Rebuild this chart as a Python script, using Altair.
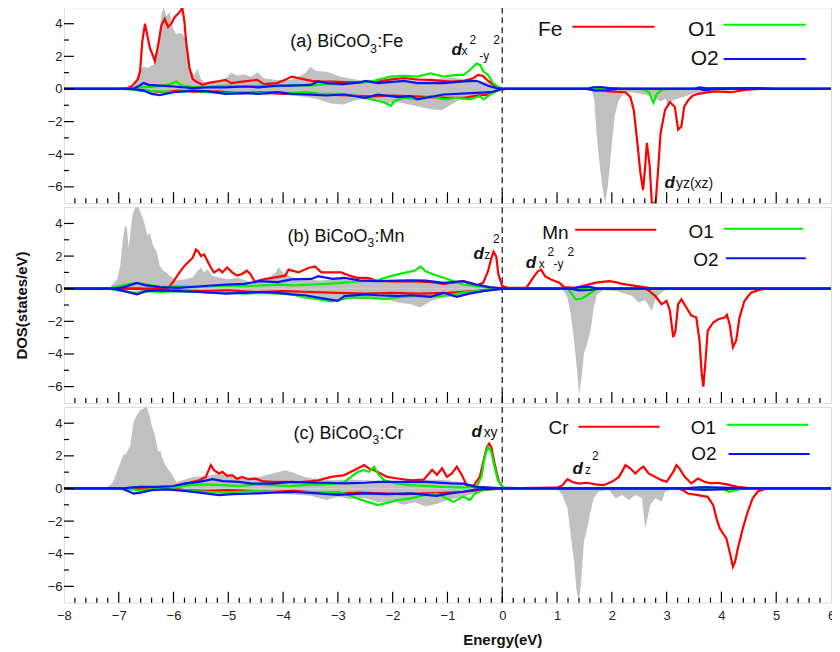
import altair as alt
import pandas as pd

# ---------------- data: (energy eV, DOS) ----------------
# Panel (a) BiCoO3:Fe
FE_TOT_UP = [(-8, 0), (-6.9, 0), (-6.72, 0.1), (-6.63, 1.1), (-6.55, 1.36), (-6.46, 1.3), (-6.40, 1.45),
             (-6.34, 1.5), (-6.28, 2.9), (-6.22, 4.6), (-6.18, 5.0), (-6.13, 4.45), (-6.07, 4.7), (-6.01, 3.7),
             (-5.95, 3.35), (-5.89, 3.45), (-5.83, 3.35), (-5.77, 3.05), (-5.71, 1.9), (-5.68, 1.1), (-5.62, 0.85),
             (-5.56, 1.25), (-5.5, 0.6), (-5.41, 0.35), (-5.23, 0.45), (-5.05, 0.62), (-4.95, 1.0), (-4.83, 0.82),
             (-4.71, 0.9), (-4.59, 0.75), (-4.47, 1.02), (-4.35, 0.65), (-4.11, 0.55), (-3.87, 0.55), (-3.72, 0.75),
             (-3.60, 0.96), (-3.50, 1.36), (-3.40, 1.1), (-3.2, 1.05), (-2.95, 0.75), (-2.7, 0.6), (-2.4, 0.45),
             (-2.1, 0.55), (-1.8, 0.5), (-1.5, 0.55), (-1.2, 0.6), (-0.9, 0.7), (-0.6, 0.55), (-0.4, 0.5),
             (-0.2, 0.35), (-0.05, 0.1), (0.05, 0), (6, 0)]
FE_TOT_DN = [(-8, 0), (-6.8, 0), (-6.5, -0.15), (-6.2, -0.2), (-5.8, -0.25), (-5.5, -0.15), (-5.2, -0.3),
             (-4.9, -0.35), (-4.6, -0.3), (-4.3, -0.4), (-4.0, -0.35), (-3.7, -0.45), (-3.4, -0.6), (-3.1, -0.9),
             (-2.9, -0.95), (-2.7, -0.7), (-2.5, -0.6), (-2.3, -0.75), (-2.1, -0.9), (-1.9, -0.8), (-1.7, -0.95),
             (-1.5, -1.1), (-1.3, -1.25), (-1.1, -1.3), (-0.95, -1.0), (-0.8, -0.7), (-0.6, -0.55), (-0.4, -0.45),
             (-0.25, -0.4), (-0.1, -0.15), (0.05, 0), (1.55, 0), (1.64, -0.15), (1.68, -0.7), (1.72, -2.7),
             (1.78, -4.7), (1.84, -6.3), (1.88, -7.0), (1.93, -5.9), (1.99, -3.7), (2.05, -1.7), (2.12, -0.75),
             (2.22, -0.25), (2.35, -0.2), (2.5, -0.3), (2.6, -0.35), (2.7, -0.45), (2.8, -0.6), (2.9, -0.75),
             (2.98, -0.6), (3.03, -1.15), (3.1, -0.7), (3.2, -0.6), (3.35, -0.45), (3.5, -0.25), (3.7, -0.15),
             (4.0, -0.1), (4.5, -0.05), (4.8, 0), (6, 0)]
FE_UP = [(-8, 0), (-7.0, 0), (-6.85, 0.05), (-6.75, 0.2), (-6.65, 0.6), (-6.61, 1.1), (-6.57, 2.9), (-6.52, 4.0),
         (-6.48, 3.3), (-6.43, 2.5), (-6.37, 2.0), (-6.34, 1.7), (-6.28, 2.7), (-6.22, 3.9), (-6.16, 4.3),
         (-6.10, 3.8), (-6.04, 4.0), (-5.98, 4.4), (-5.92, 4.6), (-5.87, 4.8), (-5.84, 5.0), (-5.80, 4.1),
         (-5.77, 2.9), (-5.71, 1.3), (-5.65, 0.6), (-5.59, 0.46), (-5.47, 0.26), (-5.38, 0.36), (-5.2, 0.46),
         (-5.05, 0.56), (-4.95, 0.36), (-4.71, 0.46), (-4.47, 0.56), (-4.35, 0.3), (-4.11, 0.36), (-3.96, 0.56),
         (-3.84, 0.76), (-3.7, 0.65), (-3.48, 0.5), (-3.3, 0.45), (-3.1, 0.45), (-2.88, 0.42), (-2.6, 0.4),
         (-2.4, 0.45), (-2.2, 0.5), (-2.0, 0.6), (-1.79, 0.66), (-1.55, 0.58), (-1.31, 0.56), (-1.1, 0.5),
         (-0.95, 0.45), (-0.7, 0.5), (-0.53, 0.66), (-0.44, 0.86), (-0.35, 0.8), (-0.28, 0.56), (-0.16, 0.26),
         (-0.05, 0.06), (0.05, 0), (1.5, 0), (1.7, 0.05), (1.9, 0.05), (2.1, 0), (6, 0)]
FE_DN = [(-8, 0), (-6.8, 0), (-6.5, -0.1), (-6.2, -0.2), (-5.9, -0.1), (-5.5, -0.2), (-5.2, -0.15), (-4.8, -0.25),
         (-4.4, -0.2), (-4.0, -0.3), (-3.6, -0.25), (-3.2, -0.35), (-2.8, -0.4), (-2.4, -0.45), (-2.0, -0.4),
         (-1.6, -0.45), (-1.3, -0.5), (-1.0, -0.55), (-0.7, -0.55), (-0.45, -0.4), (-0.25, -0.35), (-0.1, -0.1),
         (0.05, 0), (1.5, 0), (1.75, -0.05), (1.95, -0.15), (2.25, -0.2), (2.34, -0.5), (2.40, -1.3), (2.46, -3.1),
         (2.52, -5.1), (2.57, -6.2), (2.61, -4.7), (2.64, -3.3), (2.69, -4.7), (2.73, -7.0), (2.80, -7.0),
         (2.85, -4.7), (2.89, -2.7), (2.97, -1.3), (3.06, -0.8), (3.15, -1.1), (3.21, -2.5), (3.27, -2.3),
         (3.32, -1.1), (3.39, -0.7), (3.48, -0.4), (3.57, -0.3), (3.87, -0.15), (4.17, -0.2), (4.47, -0.05),
         (4.7, 0), (6, 0)]
O1A_UP = [(-8, 0), (-6.9, 0), (-6.6, 0.1), (-6.3, 0.15), (-6.05, 0.3), (-5.95, 0.46), (-5.85, 0.2), (-5.6, 0.1),
          (-5.3, 0.15), (-5.0, 0.2), (-4.7, 0.15), (-4.4, 0.2), (-4.1, 0.15), (-3.8, 0.25), (-3.5, 0.2),
          (-3.2, 0.3), (-2.9, 0.3), (-2.6, 0.4), (-2.4, 0.45), (-2.27, 0.56), (-2.04, 0.76), (-1.79, 0.8),
          (-1.55, 0.76), (-1.31, 0.96), (-1.07, 0.76), (-0.83, 0.86), (-0.71, 0.86), (-0.59, 1.16), (-0.47, 1.56),
          (-0.40, 1.46), (-0.34, 1.06), (-0.26, 0.86), (-0.17, 0.36), (-0.05, 0.06), (0.05, 0), (6, 0)]
O1A_DN = [(-8, 0), (-6.9, 0), (-6.6, -0.1), (-6.3, -0.15), (-6.0, -0.2), (-5.7, -0.1), (-5.4, -0.2), (-5.1, -0.25),
          (-4.8, -0.2), (-4.5, -0.25), (-4.2, -0.2), (-3.9, -0.25), (-3.6, -0.2), (-3.3, -0.3), (-3.0, -0.3),
          (-2.7, -0.4), (-2.5, -0.55), (-2.27, -0.74), (-2.15, -0.84), (-2.03, -1.04), (-1.97, -0.74),
          (-1.79, -0.54), (-1.55, -0.64), (-1.31, -0.44), (-1.07, -0.64), (-0.83, -0.54), (-0.59, -0.64),
          (-0.41, -0.44), (-0.34, -0.64), (-0.22, -0.34), (-0.05, -0.04), (0.05, 0), (2.55, 0), (2.68, -0.2),
          (2.76, -0.84), (2.82, -0.3), (2.92, -0.05), (3.0, 0), (6, 0)]
O2A_UP = [(-8, 0), (-6.75, 0), (-6.62, 0.2), (-6.55, 0.36), (-6.45, 0.25), (-6.25, 0.2), (-6.0, 0.15),
          (-5.65, 0.05), (-5.4, 0.1), (-5.05, 0.1), (-4.7, 0.15), (-4.45, 0.1), (-4.1, 0.2), (-3.85, 0.2),
          (-3.5, 0.25), (-3.36, 0.46), (-3.2, 0.35), (-2.9, 0.3), (-2.6, 0.4), (-2.5, 0.5), (-2.27, 0.36),
          (-1.79, 0.5), (-1.55, 0.36), (-1.07, 0.36), (-0.71, 0.46), (-0.47, 0.5), (-0.26, 0.2), (-0.08, 0.03),
          (0.05, 0), (1.55, 0), (1.65, 0.1), (1.8, 0.12), (1.95, 0.05), (2.2, 0), (3.5, 0), (3.6, 0.1),
          (3.7, 0.05), (4.0, 0.03), (4.6, 0.06), (5.0, 0), (6, 0)]
O2A_DN = [(-8, 0), (-6.75, 0), (-6.55, -0.1), (-6.4, -0.3), (-6.25, -0.38), (-6.0, -0.2), (-5.65, -0.1),
          (-5.35, -0.15), (-5.05, -0.3), (-4.7, -0.25), (-4.45, -0.3), (-4.1, -0.2), (-3.85, -0.3), (-3.5, -0.35),
          (-3.2, -0.4), (-2.88, -0.34), (-2.5, -0.54), (-2.27, -0.34), (-1.9, -0.5), (-1.67, -0.44),
          (-1.55, -0.64), (-1.07, -0.34), (-0.47, -0.24), (-0.2, -0.2), (-0.05, -0.05), (0.05, 0), (1.55, 0),
          (1.7, -0.1), (1.9, -0.08), (2.1, 0), (3.6, 0), (3.7, -0.08), (3.85, 0), (6, 0)]

# Panel (b) BiCoO3:Mn
MN_TOT_UP = [(-8, 0), (-7.25, 0), (-7.16, 0.1), (-7.03, 0.55), (-6.97, 1.47), (-6.93, 2.9), (-6.88, 3.9),
             (-6.85, 3.7), (-6.82, 2.5), (-6.79, 3.3), (-6.75, 4.5), (-6.70, 5.0), (-6.64, 5.0), (-6.58, 4.5),
             (-6.52, 3.9), (-6.48, 3.3), (-6.43, 3.4), (-6.37, 2.6), (-6.31, 2.3), (-6.25, 1.4), (-6.19, 1.1),
             (-6.13, 1.0), (-6.07, 0.8), (-5.95, 0.5), (-5.77, 0.6), (-5.65, 0.7), (-5.56, 1.1), (-5.50, 1.3),
             (-5.44, 1.0), (-5.38, 1.2), (-5.29, 0.8), (-5.05, 0.6), (-4.81, 0.65), (-4.57, 0.37), (-4.32, 0.5),
             (-4.14, 1.0), (-4.08, 1.3), (-4.0, 1.0), (-3.84, 0.7), (-3.6, 0.6), (-3.36, 0.5), (-3.1, 0.55),
             (-2.8, 0.7), (-2.5, 0.6), (-2.2, 0.55), (-1.9, 0.45), (-1.6, 0.5), (-1.3, 0.45), (-1.0, 0.4),
             (-0.7, 0.3), (-0.4, 0.2), (-0.1, 0.1), (0.05, 0), (6, 0)]
MN_TOT_DN = [(-8, 0), (-6.9, 0), (-6.6, -0.15), (-6.2, -0.1), (-5.8, -0.2), (-5.4, -0.15), (-5.0, -0.25),
             (-4.6, -0.2), (-4.2, -0.3), (-3.8, -0.35), (-3.5, -0.55), (-3.2, -0.6), (-3.0, -0.75), (-2.8, -0.55),
             (-2.5, -0.65), (-2.2, -0.6), (-1.9, -0.85), (-1.67, -0.95), (-1.5, -1.15), (-1.3, -0.75),
             (-1.1, -0.55), (-0.8, -0.45), (-0.5, -0.3), (-0.2, -0.15), (0.05, 0), (1.1, 0), (1.19, -0.55),
             (1.25, -1.56), (1.31, -3.17), (1.37, -5.19), (1.40, -6.5), (1.45, -5.39), (1.49, -3.98), (1.55, -3.37),
             (1.61, -2.57), (1.67, -1.15), (1.73, -0.34), (1.85, -0.1), (2.1, -0.15), (2.37, -0.44), (2.49, -0.85),
             (2.61, -0.7), (2.73, -1.35), (2.79, -0.7), (2.85, -0.4), (2.97, -0.1), (3.1, 0), (6, 0)]
MN_UP = [(-8, 0), (-6.2, 0), (-6.1, 0.05), (-6.01, 0.4), (-5.89, 1.0), (-5.80, 1.4), (-5.71, 1.7), (-5.65, 1.9),
         (-5.59, 2.4), (-5.55, 2.3), (-5.50, 2.0), (-5.44, 2.1), (-5.38, 1.7), (-5.32, 1.3), (-5.26, 1.0),
         (-5.17, 1.2), (-5.11, 1.0), (-5.02, 1.3), (-4.93, 1.0), (-4.84, 0.8), (-4.75, 0.9), (-4.66, 1.1),
         (-4.60, 0.9), (-4.51, 0.4), (-4.45, 0.5), (-4.32, 0.6), (-4.14, 0.7), (-3.96, 0.8), (-3.9, 1.17),
         (-3.72, 1.0), (-3.54, 1.27), (-3.42, 1.37), (-3.3, 1.0), (-3.12, 1.0), (-2.94, 1.0), (-2.76, 0.77),
         (-2.64, 0.67), (-2.46, 0.67), (-2.3, 0.5), (-2.0, 0.45), (-1.67, 0.46), (-1.3, 0.4), (-1.07, 0.3),
         (-0.71, 0.46), (-0.59, 0.3), (-0.47, 0.2), (-0.35, 0.36), (-0.26, 1.07), (-0.20, 1.87), (-0.16, 2.27),
         (-0.11, 1.97), (-0.07, 0.87), (0.0, 0.16), (0.1, 0.05), (0.44, 0.05), (0.56, 0.67), (0.65, 1.07),
         (0.71, 1.17), (0.78, 0.77), (0.89, 0.57), (0.96, 0.47), (1.04, 0.37), (1.13, 0.1), (1.34, 0.05),
         (1.71, 0.37), (1.95, 0.47), (2.07, 0.4), (2.19, 0.3), (2.67, 0.05), (2.9, 0), (6, 0)]
MN_DN = [(-8, 0), (-6.6, 0), (-6.5, -0.1), (-6.0, -0.1), (-5.5, -0.15), (-5.0, -0.1), (-4.5, -0.2), (-4.0, -0.15),
         (-3.5, -0.2), (-3.0, -0.25), (-2.5, -0.3), (-2.0, -0.25), (-1.5, -0.3), (-1.0, -0.25), (-0.5, -0.15),
         (-0.2, -0.05), (0.05, 0), (2.6, 0), (2.67, -0.1), (2.79, -0.44), (2.91, -0.95), (3.0, -0.75),
         (3.06, -1.35), (3.12, -2.97), (3.16, -2.6), (3.21, -0.95), (3.27, -0.65), (3.36, -1.15), (3.45, -1.65),
         (3.54, -1.75), (3.60, -3.17), (3.64, -5.19), (3.67, -6.0), (3.71, -4.4), (3.75, -2.57), (3.85, -2.07),
         (3.94, -1.87), (4.06, -1.77), (4.10, -1.6), (4.15, -2.17), (4.21, -3.58), (4.27, -3.17), (4.33, -1.77),
         (4.42, -0.75), (4.54, -0.24), (4.72, -0.04), (4.85, 0), (6, 0)]
O1B_UP = [(-8, 0), (-7.2, 0), (-7.0, 0.15), (-6.8, 0.3), (-6.67, 0.35), (-6.55, 0.3), (-6.4, 0.2), (-6.2, 0.1),
          (-5.9, 0.15), (-5.6, 0.1), (-5.3, 0.15), (-5.0, 0.2), (-4.7, 0.15), (-4.4, 0.2), (-4.1, 0.25),
          (-3.8, 0.2), (-3.5, 0.25), (-3.2, 0.3), (-3.0, 0.34), (-2.64, 0.45), (-2.28, 0.52), (-2.04, 0.77),
          (-1.79, 0.97), (-1.6, 1.1), (-1.49, 1.37), (-1.4, 1.07), (-1.25, 0.87), (-1.07, 0.67), (-0.89, 0.46),
          (-0.71, 0.26), (-0.47, 0.15), (-0.2, 0.05), (0.05, 0), (6, 0)]
O1B_DN = [(-8, 0), (-7.2, 0), (-7.0, -0.1), (-6.8, -0.2), (-6.67, -0.25), (-6.5, -0.15), (-6.2, -0.2),
          (-5.9, -0.15), (-5.6, -0.2), (-5.3, -0.25), (-5.0, -0.2), (-4.7, -0.3), (-4.4, -0.25), (-4.1, -0.3),
          (-3.84, -0.35), (-3.6, -0.54), (-3.36, -0.64), (-3.12, -0.78), (-3.0, -0.7), (-2.76, -0.54),
          (-2.4, -0.55), (-2.16, -0.64), (-1.85, -0.5), (-1.6, -0.45), (-1.37, -0.45), (-1.13, -0.45),
          (-0.89, -0.35), (-0.71, -0.24), (-0.47, -0.15), (-0.2, -0.05), (0.05, 0), (1.2, 0), (1.34, -0.65),
          (1.46, -0.6), (1.58, -0.34), (1.7, -0.05), (1.8, 0), (6, 0)]
O2B_UP = [(-8, 0), (-7.1, 0), (-6.9, 0.1), (-6.67, 0.36), (-6.5, 0.2), (-6.25, 0.1), (-5.9, 0.05), (-5.5, 0.15),
          (-5.05, 0.25), (-4.7, 0.3), (-4.44, 0.46), (-4.1, 0.4), (-3.84, 0.57), (-3.48, 0.6), (-3.36, 0.77),
          (-3.1, 0.6), (-2.88, 0.67), (-2.6, 0.5), (-2.28, 0.46), (-1.9, 0.5), (-1.67, 0.52), (-1.4, 0.5),
          (-1.07, 0.36), (-0.71, 0.46), (-0.47, 0.25), (-0.23, 0.1), (0.05, 0), (1.25, 0), (1.4, 0.1),
          (1.6, 0.12), (1.75, 0), (6, 0)]
O2B_DN = [(-8, 0), (-7.1, 0), (-6.9, -0.15), (-6.67, -0.35), (-6.5, -0.15), (-6.25, -0.1), (-5.9, -0.15),
          (-5.5, -0.2), (-5.05, -0.3), (-4.7, -0.25), (-4.44, -0.2), (-4.1, -0.25), (-3.84, -0.35), (-3.6, -0.4),
          (-3.36, -0.55), (-3.0, -0.75), (-2.88, -0.45), (-2.5, -0.35), (-2.28, -0.4), (-1.9, -0.45),
          (-1.67, -0.4), (-1.3, -0.5), (-1.07, -0.24), (-0.83, -0.5), (-0.6, -0.3), (-0.35, -0.15),
          (-0.1, -0.05), (0.05, 0), (1.25, 0), (1.4, -0.1), (1.6, -0.08), (1.75, 0), (6, 0)]

# Panel (c) BiCoO3:Cr
CR_TOT_UP = [(-8, 0), (-7.3, 0), (-7.2, 0.1), (-7.10, 0.4), (-7.01, 1.22), (-6.92, 2.04), (-6.86, 2.14),
             (-6.79, 2.65), (-6.73, 4.08), (-6.67, 4.5), (-6.61, 4.8), (-6.55, 4.9), (-6.49, 5.0), (-6.44, 4.5),
             (-6.40, 3.9), (-6.34, 3.27), (-6.28, 2.25), (-6.24, 2.3), (-6.19, 1.73), (-6.13, 1.33), (-6.04, 0.92),
             (-5.95, 0.4), (-5.83, 0.51), (-5.65, 0.71), (-5.41, 0.75), (-5.17, 0.92), (-4.93, 0.7), (-4.69, 0.6),
             (-4.44, 0.71), (-4.20, 0.92), (-3.96, 1.12), (-3.84, 1.0), (-3.6, 0.7), (-3.36, 0.55), (-3.1, 0.5),
             (-2.8, 0.55), (-2.5, 0.5), (-2.2, 0.45), (-1.9, 0.4), (-1.6, 0.5), (-1.3, 0.55), (-1.0, 0.5),
             (-0.7, 0.35), (-0.4, 0.15), (-0.1, 0.05), (0.05, 0), (6, 0)]
CR_TOT_DN = [(-8, 0), (-7.0, 0), (-6.7, -0.1), (-6.3, -0.05), (-5.9, -0.15), (-5.5, -0.2), (-5.1, -0.25),
             (-4.7, -0.2), (-4.3, -0.3), (-3.9, -0.35), (-3.5, -0.45), (-3.2, -0.7), (-3.0, -0.5), (-2.8, -0.65),
             (-2.5, -0.6), (-2.27, -0.85), (-2.0, -0.8), (-1.8, -1.0), (-1.6, -0.85), (-1.4, -1.1), (-1.2, -0.95),
             (-1.0, -0.7), (-0.7, -0.5), (-0.45, -0.25), (-0.2, -0.1), (0.05, 0), (1.0, 0), (1.10, -0.41),
             (1.19, -1.22), (1.25, -2.86), (1.31, -4.49), (1.35, -6.12), (1.40, -6.94), (1.44, -5.71),
             (1.49, -3.27), (1.55, -2.45), (1.61, -1.43), (1.67, -0.61), (1.76, -0.2), (1.95, -0.1), (2.07, -0.61),
             (2.19, -0.4), (2.31, -0.71), (2.43, -0.4), (2.55, -0.6), (2.61, -2.45), (2.64, -2.0), (2.70, -1.02),
             (2.79, -0.6), (2.91, -0.82), (2.97, -0.2), (3.1, -0.05), (3.3, 0), (6, 0)]
CR_UP = [(-8, 0), (-6.0, 0), (-5.95, 0.05), (-5.77, 0.3), (-5.53, 0.5), (-5.41, 0.71), (-5.32, 1.43), (-5.26, 1.12),
         (-5.17, 0.92), (-5.11, 1.02), (-5.02, 0.78), (-4.93, 0.82), (-4.84, 0.6), (-4.75, 0.71), (-4.63, 0.57),
         (-4.5, 0.6), (-4.38, 0.45), (-4.2, 0.41), (-3.96, 0.41), (-3.72, 0.38), (-3.48, 0.45), (-3.36, 0.5),
         (-3.12, 0.71), (-2.88, 0.82), (-2.76, 1.02), (-2.64, 1.22), (-2.52, 1.43), (-2.43, 1.22), (-2.34, 1.12),
         (-2.22, 0.92), (-2.10, 0.71), (-1.91, 0.61), (-1.67, 0.5), (-1.43, 0.55), (-1.28, 1.14), (-1.19, 0.84),
         (-1.10, 1.24), (-1.01, 0.71), (-0.92, 0.92), (-0.83, 1.33), (-0.74, 0.84), (-0.65, 0.2), (-0.53, 0.15),
         (-0.41, 0.71), (-0.34, 1.73), (-0.28, 2.55), (-0.24, 2.76), (-0.20, 2.55), (-0.14, 1.53), (-0.06, 0.41),
         (0.02, 0.05), (0.3, 0.02), (1.0, 0.05), (1.10, 0.2), (1.19, 0.57), (1.28, 0.4), (1.4, 0.3), (1.55, 0.35),
         (1.7, 0.25), (1.85, 0.2), (2.0, 0.41), (2.13, 0.71), (2.25, 1.43), (2.34, 1.22), (2.43, 0.92),
         (2.52, 1.22), (2.58, 1.33), (2.67, 0.92), (2.79, 0.71), (2.91, 0.51), (3.0, 0.41), (3.12, 1.02),
         (3.18, 1.43), (3.24, 1.2), (3.33, 0.71), (3.45, 0.31), (3.57, 0.61), (3.69, 0.41), (3.81, 0.31),
         (3.93, 0.35), (4.1, 0.25), (4.3, 0.1), (4.5, 0.03), (4.7, 0), (6, 0)]
CR_DN = [(-8, 0), (-6.0, 0), (-5.8, -0.1), (-5.4, -0.15), (-5.0, -0.1), (-4.6, -0.15), (-4.2, -0.2), (-3.8, -0.15),
         (-3.4, -0.25), (-3.0, -0.3), (-2.6, -0.25), (-2.2, -0.3), (-1.8, -0.35), (-1.4, -0.3), (-1.0, -0.25),
         (-0.7, -0.2), (-0.4, -0.1), (-0.1, -0.02), (0.05, 0), (3.2, 0), (3.3, -0.1), (3.39, -0.31),
         (3.57, -0.41), (3.75, -0.51), (3.85, -1.02), (3.91, -1.84), (3.97, -2.45), (4.03, -2.76), (4.09, -3.06),
         (4.15, -3.88), (4.21, -4.8), (4.25, -4.49), (4.30, -3.67), (4.39, -2.45), (4.48, -1.43), (4.57, -0.61),
         (4.66, -0.2), (4.78, -0.04), (4.9, 0), (6, 0)]
O1C_UP = [(-8, 0), (-6.9, 0), (-6.75, 0.05), (-6.6, 0.1), (-6.4, 0.05), (-6.0, 0.05), (-5.7, 0.2), (-5.4, 0.25),
          (-5.1, 0.2), (-4.8, 0.15), (-4.5, 0.25), (-4.2, 0.2), (-3.9, 0.15), (-3.6, 0.2), (-3.3, 0.25),
          (-3.0, 0.3), (-2.88, 0.4), (-2.76, 0.71), (-2.64, 1.02), (-2.52, 1.12), (-2.43, 1.02), (-2.34, 1.33),
          (-2.27, 0.92), (-2.16, 0.5), (-1.91, 0.3), (-1.67, 0.2), (-1.1, 0.1), (-0.71, 0.06), (-0.47, 0.1),
          (-0.38, 0.71), (-0.32, 1.94), (-0.26, 2.55), (-0.20, 2.24), (-0.14, 1.33), (-0.08, 0.5), (0.02, 0.05),
          (0.2, 0), (6, 0)]
O1C_DN = [(-8, 0), (-6.9, 0), (-6.75, -0.05), (-6.6, -0.15), (-6.4, -0.05), (-6.0, -0.05), (-5.7, -0.15),
          (-5.4, -0.2), (-5.1, -0.25), (-4.8, -0.2), (-4.5, -0.15), (-4.2, -0.2), (-3.9, -0.25), (-3.6, -0.2),
          (-3.3, -0.25), (-3.0, -0.2), (-2.88, -0.31), (-2.64, -0.61), (-2.46, -0.82), (-2.27, -1.02),
          (-2.1, -0.88), (-1.91, -0.71), (-1.67, -0.61), (-1.43, -0.41), (-1.19, -0.31), (-1.01, -0.61),
          (-0.89, -0.82), (-0.71, -0.5), (-0.59, -0.71), (-0.5, -0.31), (-0.35, -0.1), (-0.2, -0.02), (0.05, 0),
          (4.0, 0), (4.15, -0.2), (4.25, -0.1), (4.4, 0), (6, 0)]
O2C_UP = [(-8, 0), (-6.95, 0), (-6.8, 0.05), (-6.6, 0.1), (-6.3, 0.1), (-6.0, 0.15), (-5.8, 0.3), (-5.53, 0.4),
          (-5.29, 0.57), (-5.1, 0.45), (-4.81, 0.4), (-4.57, 0.3), (-4.2, 0.3), (-3.84, 0.4), (-3.48, 0.35),
          (-3.2, 0.35), (-2.88, 0.31), (-2.5, 0.35), (-2.27, 0.41), (-1.9, 0.41), (-1.67, 0.41), (-1.4, 0.4),
          (-0.95, 0.31), (-0.71, 0.3), (-0.47, 0.1), (-0.2, 0.06), (0.05, 0), (3.3, 0), (3.5, 0.06), (3.7, 0.08),
          (4.0, 0.05), (4.3, 0.02), (4.6, 0), (6, 0)]
O2C_DN = [(-8, 0), (-6.95, 0), (-6.8, -0.2), (-6.73, -0.31), (-6.6, -0.25), (-6.4, -0.1), (-6.13, -0.05),
          (-5.8, -0.15), (-5.53, -0.25), (-5.17, -0.41), (-4.93, -0.35), (-4.45, -0.3), (-3.84, -0.2),
          (-3.36, -0.3), (-3.0, -0.4), (-2.5, -0.3), (-2.1, -0.35), (-1.67, -0.3), (-1.2, -0.45), (-0.95, -0.31),
          (-0.71, -0.2), (-0.47, -0.05), (0.05, 0), (3.3, 0), (3.5, -0.05), (3.7, -0.08), (4.0, -0.05), (4.3, 0),
          (6, 0)]

# axis tick values
XT_MAJOR = [-8, -7, -6, -5, -4, -3, -2, -1, 0, 1, 2, 3, 4, 5, 6]
XT_MINOR = [round(-8 + 0.2 * k, 1) for k in range(71) if k % 5 != 0]
YT_MAJOR = [-6, -4, -2, 0, 2, 4]
YT_MINOR = [-5, -3, -1, 1, 3]

# in-panel legends: label, label position, line start/end, line level
LEG_A_TXT = ["Fe", "O1", "O2"]
LEG_A_TE = [1.10, 3.90, 3.95]
LEG_A_TD = [3.61, 3.64, 1.84]
LEG_A_L1 = [1.28, 4.04, 4.04]
LEG_A_L2 = [2.78, 5.54, 5.54]
LEG_A_LD = [3.82, 3.94, 1.84]
LEG_B_TXT = ["Mn", "O1", "O2"]
LEG_B_TE = [1.21, 3.86, 3.95]
LEG_B_TD = [3.44, 3.50, 1.74]
LEG_B_L1 = [1.33, 4.04, 4.08]
LEG_B_L2 = [2.81, 5.49, 5.54]
LEG_B_LD = [3.62, 3.68, 1.86]
LEG_C_TXT = ["Cr", "O1", "O2"]
LEG_C_TE = [1.21, 3.90, 3.91]
LEG_C_TD = [3.72, 3.72, 2.12]
LEG_C_L1 = [1.39, 4.10, 4.13]
LEG_C_L2 = [2.87, 5.58, 5.61]
LEG_C_LD = [3.78, 3.90, 2.12]

# panel titles: (text, E, DOS, kind)  kind: main (right aligned), sub, tail
TITLE_A = [("(a) BiCoO", -2.41, 2.56, "main"), ("3", -2.41, 2.22, "sub"), (":Fe", -2.28, 2.56, "tail")]
TITLE_B = [("(b) BiCoO", -2.46, 2.89, "main"), ("3", -2.46, 2.55, "sub"), (":Mn", -2.33, 2.89, "tail")]
TITLE_C = [("(c) BiCoO", -2.37, 3.06, "main"), ("3", -2.37, 2.72, "sub"), (":Cr", -2.24, 3.06, "tail")]

# orbital annotations: bold italic "d" and its indices (text, E, DOS, size)
ANN_A_D = [(-0.925, 2.08), (2.96, -6.05)]
ANN_A_S = [("x", -0.744, 2.08, 12), ("2", -0.60, 2.74, 12), ("-y", -0.42, 1.80, 12), ("2", -0.166, 2.74, 12),
           ("yz(xz)", 3.17, -6.05, 14)]
ANN_B_D = [(-0.527, 1.80), (0.43, 1.25)]
ANN_B_S = [("z", -0.33, 1.80, 12), ("2", -0.17, 2.79, 12), ("x", 0.665, 1.25, 12), ("2", 0.827, 1.98, 12),
           ("-y", 0.935, 1.30, 12), ("2", 1.19, 1.98, 12)]
ANN_C_D = [(-0.56, 3.17), (1.28, 0.90)]
ANN_C_S = [("xy", -0.34, 3.17, 14), ("z", 1.51, 0.90, 12), ("2", 1.64, 1.76, 12)]

# ---------------- styling ----------------
W, H = 768, 196
RED, GREEN, BLUE, GRAY = "#ff0000", "#00ee00", "#0a14f5", "#c0c0c0"
FONT = "Liberation Sans"


def curve(up, dn):
    a = pd.DataFrame(up, columns=["E", "dos"]).assign(spin="up")
    b = pd.DataFrame(dn, columns=["E", "dos"]).assign(spin="dn")
    return pd.concat([a, b], ignore_index=True)


def panel(tot, tm, o1, o2, leg, title, ann_d, ann_s, leg_size, xaxis, ytitle):
    xs = alt.Scale(domain=[-8, 6], nice=False, zero=False)
    ys = alt.Scale(domain=[-7, 5], nice=False, zero=False)
    yaxis = alt.Axis(values=YT_MAJOR, ticks=False, domain=False, grid=False, labelFontSize=13,
                     labelPadding=2, labelColor="#222", labelFont=FONT, title=ytitle,
                     titleFontSize=15, titleFontWeight="bold", titlePadding=18, titleColor="#111",
                     titleFont=FONT)
    X = alt.X("E:Q", scale=xs, axis=xaxis)
    Y = alt.Y("dos:Q", scale=ys, axis=yaxis, stack=None)

    layers = []
    layers.append(alt.Chart(curve(*tot)).mark_area(color=GRAY, clip=True, opacity=1).encode(
        x=X, y=Y, y2=alt.datum(0), detail="spin:N"))
    layers.append(alt.Chart(pd.DataFrame({"E": [0]})).mark_rule(
        color="#333", strokeDash=[6, 4], strokeWidth=1.4).encode(x=X))
    for data, col in ((tm, RED), (o1, GREEN), (o2, BLUE)):
        layers.append(alt.Chart(curve(*data)).mark_line(color=col, strokeWidth=2.2, clip=True).encode(
            x=X, y=Y, detail="spin:N"))

    # ticks pointing inward
    layers.append(alt.Chart(pd.DataFrame({"E": XT_MAJOR[1:-1]})).mark_rule(color="black", strokeWidth=1.2).encode(
        x=X, y=alt.value(H), y2=alt.value(H - 11)))
    layers.append(alt.Chart(pd.DataFrame({"E": XT_MINOR})).mark_rule(color="black", strokeWidth=1.2).encode(
        x=X, y=alt.value(H), y2=alt.value(H - 5)))
    layers.append(alt.Chart(pd.DataFrame({"dos": YT_MAJOR})).mark_rule(color="black", strokeWidth=1.2).encode(
        y=Y, x=alt.value(0), x2=alt.value(10)))
    layers.append(alt.Chart(pd.DataFrame({"dos": YT_MINOR})).mark_rule(color="black", strokeWidth=1.2).encode(
        y=Y, x=alt.value(0), x2=alt.value(5)))

    # legend
    txt, te, td, l1, l2, ld = leg
    ldf = pd.DataFrame({"txt": txt, "E": te, "dos": td, "Ea": l1, "E2": l2, "dl": ld,
                        "col": [RED, GREEN, BLUE]})
    layers.append(alt.Chart(ldf).mark_text(align="right", baseline="middle", fontSize=leg_size,
                                           font=FONT, color="#111").encode(x=X, y=Y, text="txt:N"))
    layers.append(alt.Chart(ldf).mark_rule(strokeWidth=2).encode(
        x=alt.X("Ea:Q", scale=xs, axis=xaxis), x2="E2:Q",
        y=alt.Y("dl:Q", scale=ys, axis=yaxis), color=alt.Color("col:N", scale=None)))

    # panel title
    tdf = pd.DataFrame(title, columns=["txt", "E", "dos", "kind"])
    layers.append(alt.Chart(tdf[tdf.kind == "main"]).mark_text(
        align="right", baseline="alphabetic", fontSize=18, font=FONT, color="#111").encode(x=X, y=Y, text="txt:N"))
    layers.append(alt.Chart(tdf[tdf.kind == "sub"]).mark_text(
        align="left", baseline="alphabetic", fontSize=12, font=FONT, color="#111").encode(x=X, y=Y, text="txt:N"))
    layers.append(alt.Chart(tdf[tdf.kind == "tail"]).mark_text(
        align="left", baseline="alphabetic", fontSize=18, font=FONT, color="#111").encode(x=X, y=Y, text="txt:N"))

    # orbital labels
    ddf = pd.DataFrame(ann_d, columns=["E", "dos"]).assign(txt="d")
    layers.append(alt.Chart(ddf).mark_text(
        align="left", baseline="alphabetic", fontSize=17, fontStyle="italic", fontWeight="bold",
        font=FONT, color="#111").encode(x=X, y=Y, text="txt:N"))
    sdf = pd.DataFrame(ann_s, columns=["txt", "E", "dos", "sz"])
    layers.append(alt.Chart(sdf).mark_text(
        align="left", baseline="alphabetic", font=FONT, color="#111").encode(
        x=X, y=Y, text="txt:N", size=alt.Size("sz:Q", scale=None)))

    return alt.layer(*layers).properties(width=W, height=H)


xaxis_bottom = alt.Axis(values=XT_MAJOR, ticks=False, domain=False, grid=False, labelFontSize=13,
                        labelPadding=7, labelColor="#222", labelFont=FONT, labelFlush=False,
                        title="Energy(eV)", titleFontSize=15, titleFontWeight="bold", titleX=W * 8 / 14,
                        titlePadding=10, titleColor="#111", titleFont=FONT)
xaxis_none = alt.Axis(labels=False, ticks=False, domain=False, grid=False, title=None)

pa = panel((FE_TOT_UP, FE_TOT_DN), (FE_UP, FE_DN), (O1A_UP, O1A_DN), (O2A_UP, O2A_DN),
           (LEG_A_TXT, LEG_A_TE, LEG_A_TD, LEG_A_L1, LEG_A_L2, LEG_A_LD), TITLE_A, ANN_A_D, ANN_A_S, 21,
           xaxis_none, None)
pb = panel((MN_TOT_UP, MN_TOT_DN), (MN_UP, MN_DN), (O1B_UP, O1B_DN), (O2B_UP, O2B_DN),
           (LEG_B_TXT, LEG_B_TE, LEG_B_TD, LEG_B_L1, LEG_B_L2, LEG_B_LD), TITLE_B, ANN_B_D, ANN_B_S, 19,
           xaxis_none, "DOS(states/eV)")
pc = panel((CR_TOT_UP, CR_TOT_DN), (CR_UP, CR_DN), (O1C_UP, O1C_DN), (O2C_UP, O2C_DN),
           (LEG_C_TXT, LEG_C_TE, LEG_C_TD, LEG_C_L1, LEG_C_L2, LEG_C_LD), TITLE_C, ANN_C_D, ANN_C_S, 19,
           xaxis_bottom, None)

chart = alt.vconcat(pa, pb, pc, spacing=0).properties(
    padding={"left": 5, "top": -3, "right": -4, "bottom": 0}
).configure_view(stroke="black", strokeWidth=1.5).configure(font=FONT)

chart.save("out.html", embed_options={"renderer": "svg", "actions": False})
